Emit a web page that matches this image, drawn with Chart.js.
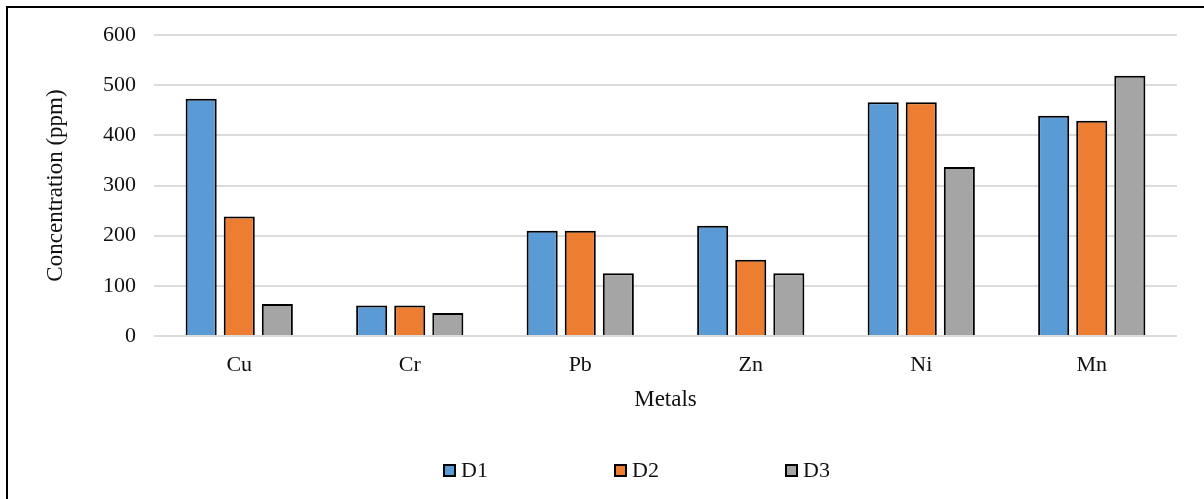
<!DOCTYPE html>
<html>
<head>
<meta charset="utf-8">
<script src="https://cdn.jsdelivr.net/npm/chart.js@4.4.0/dist/chart.umd.min.js"></script>
<style>
body { margin: 0; background: #fff; }
#wrap { position: relative; width: 1204px; height: 499px; overflow: hidden; }
#frame { position: absolute; left: 6px; top: 6px; width: 1300px; height: 600px; border-top: 2px solid #000; border-left: 2px solid #000; }
#chart { position: absolute; left: 0; top: 0; }
#legend { position: absolute; left: 443px; top: 457px; display: flex; font-family: "Liberation Serif", serif; font-size: 22px; line-height: 26px; color: #111; }
.item { width: 171px; display: flex; align-items: center; }
.box { width: 9px; height: 9px; border: 2px solid #000; margin-right: 5px; }
</style>
</head>
<body>
<div id="wrap">
  <div id="frame"></div>
  <canvas id="chart" width="1204" height="499"></canvas>
  <div id="legend"></div>
</div>
<script>
const metals = ["Cu", "Cr", "Pb", "Zn", "Ni", "Mn"];
const d1 = [473, 61, 210, 220, 466, 439];
const d2 = [238, 61, 210, 152, 466, 429];
const d3 = [64, 46, 125, 125, 337, 519];
const seriesNames = ["D1", "D2", "D3"];
const seriesColors = ["#5B9BD5", "#ED7D31", "#A5A5A5"];

const serif = "'Liberation Serif', 'Times New Roman', serif";
const textColor = "#111";

function makeSet(i, values) {
  return {
    label: seriesNames[i],
    data: values,
    backgroundColor: seriesColors[i],
    borderColor: "#000",
    borderWidth: 2,
    categoryPercentage: 0.67,
    barPercentage: 0.816
  };
}

const chart = new Chart(document.getElementById("chart"), {
  type: "bar",
  data: {
    labels: metals,
    datasets: [makeSet(0, d1), makeSet(1, d2), makeSet(2, d3)]
  },
  options: {
    responsive: false,
    devicePixelRatio: 1,
    animation: false,
    layout: { padding: { left: 0, top: 35, right: 27, bottom: 83 } },
    plugins: { legend: { display: false }, tooltip: { enabled: false } },
    scales: {
      x: {
        grid: { display: false, drawTicks: false },
        border: { display: false },
        ticks: { color: textColor, font: { family: serif, size: 22 }, padding: 16 },
        title: { display: true, text: "Metals", color: textColor, font: { family: serif, size: 23 }, padding: { top: 0, bottom: 2 } },
        afterFit: function(scale) { scale.height = 80; }
      },
      y: {
        min: 0,
        max: 600,
        ticks: { stepSize: 100, color: textColor, font: { family: serif, size: 22 }, padding: 18 },
        grid: { color: "#dcdcdc", lineWidth: 2, drawTicks: false },
        border: { display: false },
        title: { display: true, text: "Concentration (ppm)", color: textColor, font: { family: serif, size: 23 }, padding: { top: 42, bottom: 0 } },
        afterFit: function(scale) { scale.width = 154; }
      }
    }
  }
});

// legend below the plot, built from the datasets
const legend = document.getElementById("legend");
chart.data.datasets.forEach(function(ds) {
  const item = document.createElement("div");
  item.className = "item";
  const box = document.createElement("span");
  box.className = "box";
  box.style.background = ds.backgroundColor;
  const txt = document.createElement("span");
  txt.textContent = ds.label;
  item.appendChild(box);
  item.appendChild(txt);
  legend.appendChild(item);
});
</script>
</body>
</html>
